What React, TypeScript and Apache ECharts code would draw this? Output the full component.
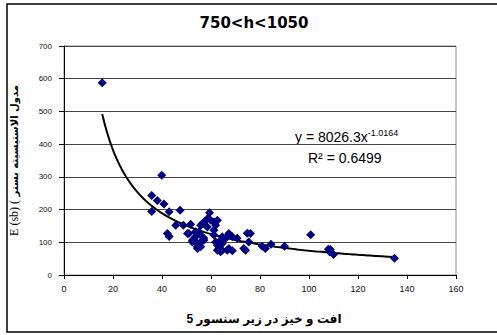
import React, { useEffect, useRef } from "react";
import * as echarts from "echarts";

// Measured points: sensor fluctuation (x) vs. subgrade modulus E(sb) (y)
const fluctX = [
  15.6, 39.9, 35.8, 38.1, 40.8, 35.8, 42.9, 47.4, 45.6, 42.2, 42.9,
  48.7, 51.7, 50.4, 52.4, 53.7, 54.4, 51.0, 53.7, 55.8, 57.1, 52.4,
  54.5, 55.8, 54.5, 55.8, 57.1, 58.5, 59.4, 62.6, 56.5, 58.5, 61.2,
  55.1, 57.1, 55.8, 59.9, 61.2, 61.9, 61.2, 61.9, 63.2, 62.6, 63.2,
  62.6, 64.6, 63.9, 64.6, 66.0, 67.3, 68.7, 70.7, 67.3, 67.3, 68.7,
  66.6, 64.6, 74.8, 76.1, 75.4, 73.4, 74.1, 80.9, 82.2, 84.5, 90.0,
  100.7, 107.9, 108.7, 108.4, 110.0, 134.9,
];
const modulusY = [
  588, 305, 243, 228, 217, 194, 193, 198, 152, 127, 118,
  152, 155, 127, 101, 117, 86, 127, 132, 122, 112, 106,
  96, 101, 81, 152, 162, 172, 190, 167, 157, 147, 137,
  132, 106, 86, 167, 162, 152, 122, 101, 101, 91, 81,
  76, 76, 71, 117, 112, 127, 117, 112, 122, 81, 74,
  76, 96, 128, 127, 101, 81, 76, 88, 81, 94, 88,
  123, 79, 78, 71, 63, 51,
];

// Power-law trend line: y = a * x^b
const trendA = 8026.3;
const trendB = -1.0164;
const trendR2 = 0.6499;

const chartTitle = "750<h<1050";
const xAxisTitle = "افت و خیز در زیر سنسور 5";
const yAxisSymbol = "E (sb) (";
const yAxisWords = " مدول الاستیسیته بستر";

const sansFont = "'Liberation Sans', Arial, 'DejaVu Sans', sans-serif";

export default function App() {
  const ref = useRef<HTMLDivElement>(null);

  useEffect(() => {
    if (!ref.current) return;
    const chart = echarts.init(ref.current, undefined, { renderer: "svg" });

    const points = fluctX.map((x, i) => [x, modulusY[i]]);
    const xMin = Math.min(...fluctX);
    const xMax = Math.max(...fluctX);
    const trend: number[][] = [];
    const steps = 120;
    for (let i = 0; i <= steps; i++) {
      const x = xMin + ((xMax - xMin) * i) / steps;
      trend.push([x, trendA * Math.pow(x, trendB)]);
    }

    chart.setOption({
      animation: false,
      backgroundColor: "#ffffff",
      grid: {
        left: 63,
        right: 41,
        top: 46,
        bottom: 60,
        show: true,
        borderColor: "#8c8c8c",
        borderWidth: 1,
      },
      xAxis: {
        type: "value",
        min: 0,
        max: 160,
        interval: 20,
        name: xAxisTitle,
        nameLocation: "middle",
        nameGap: 38,
        nameTextStyle: {
          fontFamily: sansFont,
          fontSize: 12,
          fontWeight: "bold",
          color: "#000",
          padding: [0, 0, 0, 8],
        },
        axisLine: { show: true, lineStyle: { color: "#000", width: 1 } },
        axisTick: { show: true, length: 4, lineStyle: { color: "#000" } },
        axisLabel: { fontFamily: sansFont, fontSize: 9, color: "#111", margin: 9 },
        splitLine: { show: false },
      },
      yAxis: {
        type: "value",
        min: 0,
        max: 700,
        interval: 100,
        name: `{e|${yAxisSymbol}}{a|${yAxisWords}}`,
        nameLocation: "middle",
        nameGap: 44,
        nameTextStyle: {
          color: "#000",
          rich: {
            e: {
              fontFamily: "'Liberation Serif', serif",
              fontSize: 12,
              color: "#000",
            },
            a: {
              fontFamily: "'DejaVu Sans', sans-serif",
              fontSize: 10,
              fontWeight: "bold",
              color: "#000",
            },
          },
        },
        axisLine: { show: true, lineStyle: { color: "#000", width: 1 } },
        axisTick: { show: true, length: 5, lineStyle: { color: "#000" } },
        axisLabel: { fontFamily: sansFont, fontSize: 8, color: "#111", margin: 12 },
        splitLine: { show: true, lineStyle: { color: "#444", width: 1 } },
      },
      series: [
        {
          type: "scatter",
          data: points,
          symbol: "diamond",
          symbolSize: 9,
          itemStyle: { color: "#000080", opacity: 1 },
          z: 3,
        },
        {
          type: "line",
          data: trend,
          showSymbol: false,
          smooth: false,
          lineStyle: { color: "#000", width: 2 },
          z: 2,
        },
      ],
      graphic: [
        {
          type: "rect",
          shape: { x: 7, y: 4, width: 560, height: 328 },
          style: { fill: "none", stroke: "#000", lineWidth: 1.5 },
          silent: true,
        },
        {
          type: "text",
          x: 254,
          y: 23,
          style: {
            text: chartTitle,
            fontFamily: "'DejaVu Sans', sans-serif",
            fontSize: 15,
            fontWeight: "bold",
            fill: "#000",
            align: "center",
            verticalAlign: "middle",
          },
        },
        {
          type: "text",
          x: 295,
          y: 137,
          style: {
            text: `{m|y = ${trendA}x}{s|${trendB}}`,
            verticalAlign: "middle",
            rich: {
              m: { fontFamily: sansFont, fontSize: 14, fill: "#000", lineHeight: 18 },
              s: {
                fontFamily: sansFont,
                fontSize: 9,
                fill: "#000",
                verticalAlign: "top",
                lineHeight: 18,
              },
            },
          },
        },
        {
          type: "text",
          x: 308,
          y: 158,
          style: {
            text: `R² = ${trendR2}`,
            fontFamily: sansFont,
            fontSize: 14,
            fill: "#000",
            verticalAlign: "middle",
          },
        },
      ],
    });

    return () => chart.dispose();
  }, []);

  return (
    <div
      ref={ref}
      style={{ position: "fixed", left: 0, top: 0, width: 497, height: 335 }}
    />
  );
}
